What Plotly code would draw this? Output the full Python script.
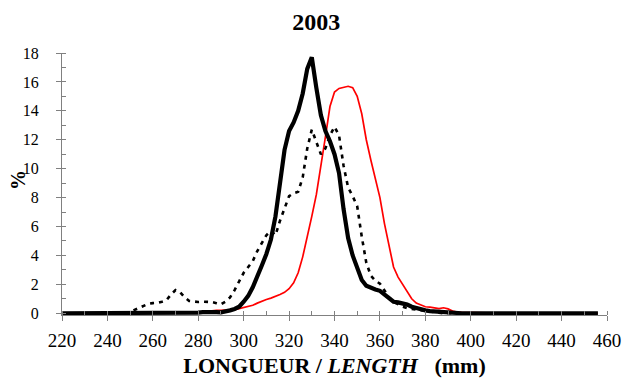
import plotly.graph_objects as go

# Length classes (mm), 2 mm steps
length_mm = list(range(220, 458, 2))

# Percentage frequency per length class
series_solid = [
    0, 0, 0, 0, 0, 0, 0, 0, 0, 0, 0, 0, 0, 0, 0, 0, 0, 0, 0, 0, 0, 0, 0, 0, 0, 0, 0, 0, 0, 0,
    0.05, 0.08, 0.1, 0.1, 0.08, 0.06, 0.1, 0.2, 0.3, 0.45, 0.8, 1.2, 1.8, 2.5, 3.3, 4.1, 5.1, 6.7,
    9.0, 11.3, 12.6, 13.2, 14.0, 15.2, 16.9, 17.7, 15.6, 13.7, 12.6, 11.9, 11.0, 9.7, 7.2, 5.2,
    4.0, 3.1, 2.3, 1.9, 1.75, 1.65, 1.55, 1.3, 1.0, 0.8, 0.75, 0.7, 0.6, 0.45, 0.35, 0.25, 0.2,
    0.15, 0.12, 0.1, 0.05, 0.03,
    0, 0, 0, 0, 0, 0, 0, 0, 0, 0, 0, 0, 0, 0, 0, 0, 0, 0, 0, 0, 0, 0, 0, 0, 0, 0, 0, 0, 0, 0,
    0, 0, 0,
]

series_dotted = [
    0, 0, 0, 0, 0, 0, 0, 0, 0, 0, 0, 0, 0, 0, 0,
    0.1, 0.25, 0.4, 0.55, 0.65, 0.7, 0.72, 0.8, 0.9, 1.3, 1.6, 1.45, 1.1, 0.85, 0.8, 0.78, 0.8,
    0.8, 0.78, 0.7, 0.62, 0.8, 1.1, 1.6, 2.2, 2.8, 3.2, 3.6, 4.3, 4.9, 5.4, 5.7, 5.4, 6.4, 7.3,
    8.1, 8.3, 8.4, 9.4, 11.4, 12.7, 11.9, 11.0, 11.4, 12.3, 12.9, 12.3, 10.2, 8.7, 8.1, 7.4, 5.3,
    3.5, 2.6, 2.25, 2.05, 1.6, 1.1, 0.8, 0.6, 0.45, 0.35, 0.3, 0.25, 0.2, 0.15, 0.1, 0.05, 0.03,
    0, 0, 0, 0, 0, 0, 0, 0, 0, 0, 0, 0, 0, 0, 0, 0, 0, 0, 0, 0, 0, 0, 0, 0, 0, 0, 0, 0, 0, 0,
    0, 0, 0, 0, 0,
]

series_red = [
    0, 0, 0, 0, 0, 0, 0, 0, 0, 0, 0, 0, 0, 0, 0, 0, 0, 0, 0, 0, 0, 0, 0,
    0.03, 0.05, 0.05, 0.05, 0.05, 0.05, 0.05, 0.07, 0.1, 0.15, 0.2, 0.2, 0.2, 0.2, 0.22, 0.25,
    0.32, 0.4, 0.5, 0.55, 0.7, 0.85, 0.95, 1.05, 1.15, 1.3, 1.45, 1.7, 2.1, 2.8, 3.9, 5.2, 6.7,
    8.2, 10.1, 12.2, 14.3, 15.3, 15.55, 15.65, 15.7, 15.6, 15.0, 13.8, 12.0, 10.6, 9.3, 8.0, 6.2,
    4.8, 3.2, 2.5, 2.0, 1.5, 1.0, 0.7, 0.55, 0.45, 0.42, 0.38, 0.32, 0.38, 0.3, 0.16, 0.08, 0.06,
    0.05, 0.05, 0.05, 0.05, 0.03,
    0, 0, 0, 0, 0, 0, 0, 0, 0, 0, 0, 0, 0, 0, 0, 0, 0, 0, 0, 0, 0, 0, 0, 0, 0,
]

x_ticks = list(range(220, 461, 20))
y_ticks = list(range(0, 19, 2))

SERIF = "Liberation Serif"
AXIS_GREY = "#808080"

fig = go.Figure()
fig.add_trace(go.Scatter(x=length_mm, y=series_red, mode="lines",
                         line=dict(color="#ff0000", width=1.7), showlegend=False))
fig.add_trace(go.Scatter(x=length_mm, y=series_dotted, mode="lines",
                         line=dict(color="#000000", width=2.6, dash="4px,5px"), showlegend=False))
fig.add_trace(go.Scatter(x=length_mm, y=series_solid, mode="lines",
                         line=dict(color="#000000", width=4.2), showlegend=False))
# invisible trace carrying the secondary (inside-tick) axes
fig.add_trace(go.Scatter(x=[220], y=[0], xaxis="x2", yaxis="y2", mode="markers",
                         marker=dict(opacity=0), showlegend=False, hoverinfo="skip"))

y_range = [-0.12, 18]
x_range = [220, 460]

fig.update_layout(
    width=626, height=387,
    margin=dict(l=62, r=19, t=53, b=72, autoexpand=False),
    paper_bgcolor="white", plot_bgcolor="white",
    title=dict(text="<b>2003</b>", x=0.505, xref="container", xanchor="center",
               y=1 - 22 / 387, yref="container", yanchor="middle",
               font=dict(family=SERIF, size=24, color="black")),
    xaxis=dict(range=x_range, tickmode="array", tickvals=x_ticks, automargin=False,
               showgrid=False, zeroline=False,
               showline=True, linecolor=AXIS_GREY, linewidth=1,
               ticks="outside", ticklen=5, tickcolor=AXIS_GREY, tickwidth=1,
               minor=dict(dtick=10, tick0=220, ticks="inside", ticklen=4,
                          tickcolor=AXIS_GREY, tickwidth=1, showgrid=False),
               tickfont=dict(family=SERIF, size=19, color="black"),
               ticklabelstandoff=3,
               title=dict(text="<b>LONGUEUR / <i>LENGTH</i>&nbsp;&nbsp;&nbsp;(mm)</b>",
                          font=dict(family=SERIF, size=22, color="black"),
                          standoff=7)),
    yaxis=dict(range=y_range, tickmode="array", tickvals=y_ticks, automargin=False,
               showgrid=False, zeroline=False,
               showline=True, linecolor=AXIS_GREY, linewidth=1,
               ticks="outside", ticklen=5, tickcolor=AXIS_GREY, tickwidth=1,
               minor=dict(dtick=1, tick0=0, ticks="inside", ticklen=4,
                          tickcolor=AXIS_GREY, tickwidth=1, showgrid=False),
               tickfont=dict(family=SERIF, size=16, color="black"),
               ticklabelstandoff=14),
    xaxis2=dict(range=x_range, overlaying="x", anchor="y2", side="bottom",
                tickmode="array", tickvals=x_ticks, showticklabels=False, automargin=False,
                showgrid=False, zeroline=False, showline=False,
                ticks="inside", ticklen=4, tickcolor=AXIS_GREY, tickwidth=1),
    yaxis2=dict(range=y_range, overlaying="y", anchor="x2", side="left",
                tickmode="array", tickvals=y_ticks, showticklabels=False, automargin=False,
                showgrid=False, zeroline=False, showline=False,
                ticks="inside", ticklen=4, tickcolor=AXIS_GREY, tickwidth=1),
    annotations=[dict(text="<b>%</b>", textangle=-90, showarrow=False,
                      xref="paper", yref="paper", x=-0.081, y=0.515,
                      xanchor="center", yanchor="middle",
                      font=dict(family=SERIF, size=20, color="black"))],
)

fig.write_html("out.html")
